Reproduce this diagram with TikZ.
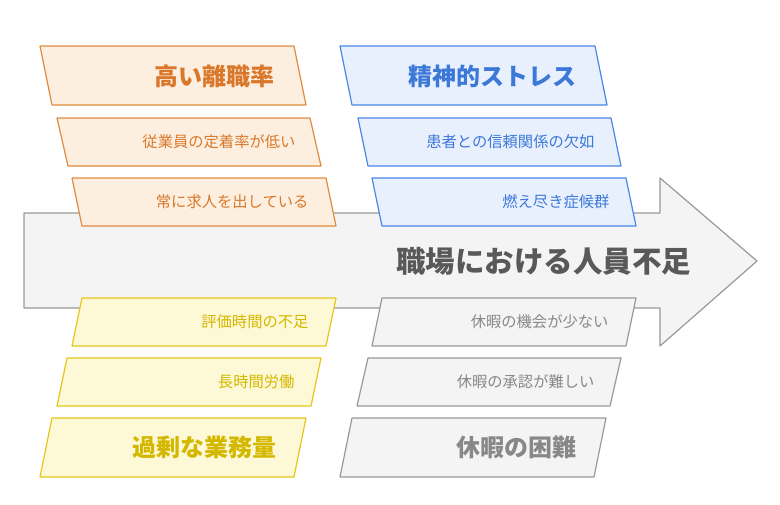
\documentclass[tikz,border=0pt]{standalone}
\usepackage{fontspec}
\newfontfamily\jp{Noto Sans CJK JP}
\definecolor{ofill}{HTML}{FDEFE0}\definecolor{oline}{HTML}{E08A3C}\definecolor{otext}{HTML}{D9782A}
\definecolor{bfill}{HTML}{E8F0FE}\definecolor{bline}{HTML}{4A86E8}\definecolor{btext}{HTML}{3C78D8}
\definecolor{yfill}{HTML}{FDF8D6}\definecolor{yline}{HTML}{E6C619}\definecolor{ytext}{HTML}{D4B800}
\definecolor{gfill}{HTML}{F4F4F4}\definecolor{gline}{HTML}{999999}\definecolor{gtext}{HTML}{888888}
\tikzset{
 obox/.style={fill=ofill,draw=oline,line width=1.2pt,line join=round},
 bbox/.style={fill=bfill,draw=bline,line width=1.2pt,line join=round},
 ybox/.style={fill=yfill,draw=yline,line width=1.2pt,line join=round},
 gbox/.style={fill=gfill,draw=gline,line width=1.2pt,line join=round},
 big/.style={anchor=east,font=\jp\bfseries\fontsize{24}{28}\selectfont},
 small/.style={anchor=east,font=\jp\fontsize{15.3}{18}\selectfont},
}
\newcommand\pgram[6]{% style, x top-left, x bottom-left, ytop, ybot, width
 \draw[#1] (#2,#4) -- ++(#6,0) -- (#3+#6,#5) -- (#3,#5) -- cycle;}
\begin{document}
\begin{tikzpicture}[x=1pt,y=-1pt]
\useasboundingbox (0,0) rectangle (780,504);
\draw[gbox] (24,213) -- (660,213) -- (660,178) -- (757,261) -- (660,346) -- (660,308) -- (24,308) -- cycle;
\node[anchor=east,font=\jp\bfseries\fontsize{29.5}{34}\selectfont,text=black!65] (title) at (695,261) {職場における人員不足};
% orange
\pgram{obox}{40}{52}{46}{105}{254}
\node[big,text=otext] (o1) at (278,76) {高い離職率};
\pgram{obox}{57}{68}{118}{166}{253}
\node[small,text=otext] (o2) at (299,142) {従業員の定着率が低い};
\pgram{obox}{72}{82}{178}{226}{254}
\node[small,text=otext] (o3) at (312,202) {常に求人を出している};
% blue
\pgram{bbox}{340}{352}{46}{105}{255}
\node[big,text=btext] (b1) at (580,76) {精神的ストレス};
\pgram{bbox}{358}{368}{118}{166}{253}
\node[small,text=btext] (b2) at (598,142) {患者との信頼関係の欠如};
\pgram{bbox}{372}{382}{178}{226}{254}
\node[small,text=btext] (b3) at (613,202) {燃え尽き症候群};
% yellow
\pgram{ybox}{82}{72}{298}{346}{254}
\node[small,text=ytext] (y1) at (312,322) {評価時間の不足};
\pgram{ybox}{67}{57}{358}{406}{254}
\node[small,text=ytext] (y2) at (298,382) {長時間労働};
\pgram{ybox}{52}{40}{418}{477}{254}
\node[big,text=ytext] (y3) at (280,447) {過剰な業務量};
% gray
\pgram{gbox}{382}{372}{298}{346}{254}
\node[small,text=gtext] (g1) at (612,322) {休暇の機会が少ない};
\pgram{gbox}{368}{357}{358}{406}{253}
\node[small,text=gtext] (g2) at (598,382) {休暇の承認が難しい};
\pgram{gbox}{352}{340}{418}{477}{254}
\node[big,text=gtext] (g3) at (580,447) {休暇の困難};
\end{tikzpicture}
\end{document}
